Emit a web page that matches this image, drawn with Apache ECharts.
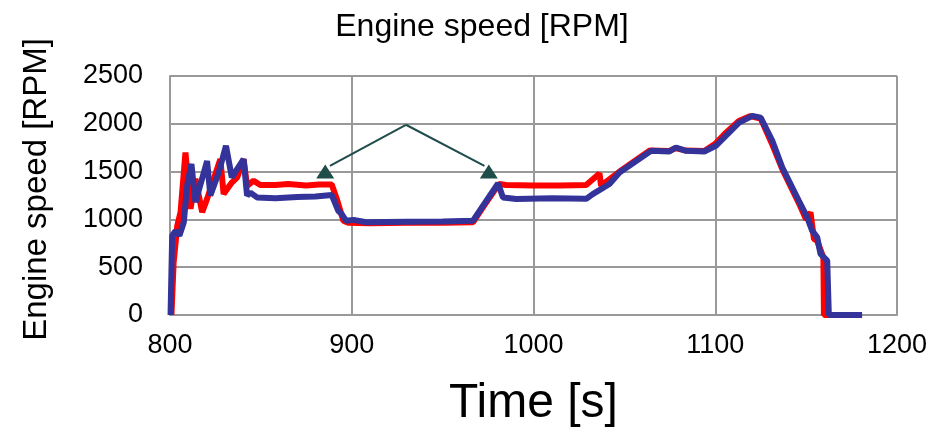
<!DOCTYPE html>
<html>
<head>
<meta charset="utf-8">
<script src="https://cdn.jsdelivr.net/npm/echarts@6/dist/echarts.min.js"></script>
<style>html,body{margin:0;padding:0;background:#fff;}#c{width:951px;height:428px;}</style>
</head>
<body>
<div id="c"></div>
<script>
const titleText = 'Engine speed [RPM]';
const xName = 'Time [s]';
const yName = 'Engine speed [RPM]';

const redT = [800.8,802,804,805.8,808.5,811.3,814,817.7,820.4,827.7,829.5,834,837,840.5,842.4,846,849.7,858,865,875,882,889,892,895.4,898,910,930,950,966.7,973,981,985,1000,1015,1029,1036.3,1037.2,1047,1064,1074.7,1078,1084,1094,1100,1105,1113,1119,1125,1131,1137,1146,1150,1152.4,1154.3,1156,1159.5,1159.8,1180];
const redV = [0,550,935,1075,1700,1110,1425,1075,1215,1630,1265,1385,1440,1630,1350,1405,1360,1360,1370,1355,1365,1365,1200,985,965,960,965,965,970,1150,1370,1360,1355,1355,1360,1480,1352,1495,1720,1715,1745,1720,1715,1790,1890,2030,2080,2055,1800,1520,1170,1000,1073,795,780,600,0,0];

const blueT = [800.3,801.2,803,805.2,807.6,809.4,811.8,814,820.4,822.2,826.8,830.8,834,840.5,842.4,844.2,847.9,858,870,880,889,892.6,894.5,896.9,901,908,930,950,966.7,980.5,983.2,990.6,1010,1029,1032.6,1041.8,1047.3,1064.7,1074.7,1078.4,1083.9,1094,1100.3,1105.8,1113.1,1120.4,1125,1131.4,1136.9,1146,1150.6,1153.3,1156.1,1157.9,1161.6,1162.5,1180.8];
const blueV = [0,830,880,830,970,1350,1580,1180,1610,1250,1490,1770,1440,1630,1250,1280,1230,1220,1235,1240,1255,1090,1055,985,995,970,975,978,986,1376,1230,1213,1220,1215,1265,1370,1490,1717,1710,1752,1717,1710,1770,1874,2013,2083,2065,1822,1543,1195,1021,882,812,639,569,0,0];

// annotation: arrow start and the two arrow tips (data coords)
const arrowFrom = [929.8, 1990];
const arrowTips = [[888, 1560], [973, 1560]];
const arrowHeads = [[885.4, 1500], [975.4, 1500]];

const xTicks = [800, 900, 1000, 1100, 1200];
const yTicks = [0, 500, 1000, 1500, 2000, 2500];

const toPairs = (t, v) => t.map((x, i) => [x, v[i]]);

const chart = echarts.init(document.getElementById('c'));
const arrowColor = '#1f4d4a';
chart.setOption({
  animation: false,
  title: {
    text: titleText, left: 477, top: 6, textAlign: 'center',
    textStyle: {fontFamily: 'Liberation Sans', fontSize: 32, fontWeight: 'normal', color: '#000'}
  },
  grid: {left: 170, right: 54, top: 76, bottom: 113, containLabel: false, outerBoundsMode: 'none'},
  xAxis: {
    type: 'value', min: xTicks[0], max: xTicks[xTicks.length-1], interval: 100,
    name: xName, nameLocation: 'middle', nameGap: 65,
    nameTextStyle: {fontFamily: 'Liberation Sans', fontSize: 48, color: '#000'},
    axisLine: {show: true, lineStyle: {color: '#999', width: 2}},
    axisTick: {show: false},
    axisLabel: {fontFamily: 'Liberation Sans', fontSize: 27, color: '#000', margin: 17, formatter: v => String(v)},
    splitLine: {show: true, lineStyle: {color: '#999', width: 2}}
  },
  yAxis: {
    type: 'value', min: yTicks[0], max: yTicks[yTicks.length-1], interval: 500,
    name: yName, nameLocation: 'middle', nameGap: 117, nameRotate: 90,
    nameTextStyle: {fontFamily: 'Liberation Sans', fontSize: 33, color: '#000', padding: [0, 0, 0, 12]},
    axisLine: {show: true, lineStyle: {color: '#999', width: 2}},
    axisTick: {show: false},
    axisLabel: {fontFamily: 'Liberation Sans', fontSize: 27, color: '#000', margin: 27, formatter: v => String(v)},
    splitLine: {show: true, lineStyle: {color: '#999', width: 2}}
  },
  series: [
    {
      type: 'line', data: toPairs(redT, redV), showSymbol: false, symbol: 'none',
      lineStyle: {color: '#ff0000', width: 6}, z: 2
    },
    {
      type: 'line', data: toPairs(blueT, blueV), showSymbol: false, symbol: 'none',
      lineStyle: {color: '#333399', width: 6}, z: 3,
      markLine: {
        silent: true, symbol: ['none', 'none'], label: {show: false},
        lineStyle: {color: arrowColor, width: 2, type: 'solid'},
        data: arrowTips.map(tp => [{coord: arrowFrom}, {coord: tp}])
      },
      markPoint: {
        silent: true, symbol: 'triangle', symbolSize: [18, 14], label: {show: false},
        itemStyle: {color: arrowColor},
        data: arrowHeads.map(h => ({coord: h}))
      }
    }
  ]
});
</script>
</body>
</html>
